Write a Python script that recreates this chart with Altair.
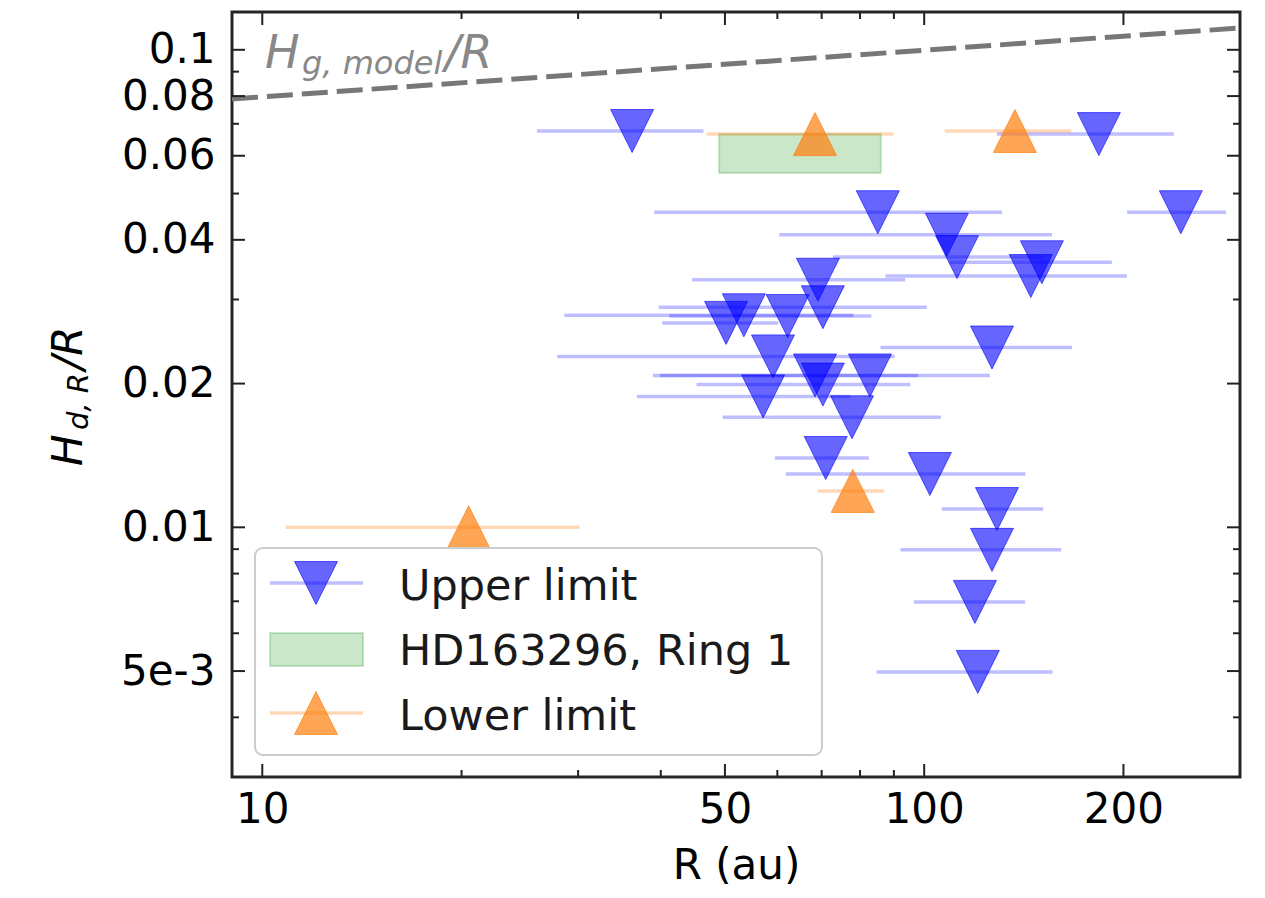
import altair as alt
import pandas as pd

# ---------------- data ----------------
# Upper limits (blue, downward triangles) with symmetric x error bars
up_r = [36.2, 183.6, 244.2, 85.1, 108.2, 112.1, 150.6, 144.9, 69.1, 70.3,
        53.4, 62.2, 50.2, 126.6, 59.1, 68.4, 82.8, 70.3, 57.1, 77.8,
        71.0, 102.0, 128.8, 126.6, 119.3, 120.5]
up_h = [0.0676, 0.0666, 0.0457, 0.0457, 0.0410, 0.0368, 0.0359, 0.0336, 0.0330, 0.0289,
        0.0278, 0.0277, 0.0268, 0.0238, 0.0228, 0.0208, 0.0208, 0.0199, 0.0188, 0.0170,
        0.01397, 0.01293, 0.01092, 0.00897, 0.00698, 0.00498]
up_err = [10.2, 54.8, 41.6, 46.0, 47.8, 39.3, 41.5, 57.5, 24.5, 30.6,
          24.8, 21.0, 10.0, 40.7, 31.2, 29.5, 42.9, 25.0, 20.3, 28.2,
          11.5, 40.2, 22.5, 34.5, 22.8, 35.8]

# Lower limits (orange, upward triangles)
lo_r = [20.5, 68.4, 137.1, 78.0]
lo_h = [0.0100, 0.0666, 0.0676, 0.01192]
lo_err = [9.65, 21.5, 29.7, 9.0]

# HD163296, Ring 1 box
ring_r = [49.0, 86.0]
ring_h = [0.0552, 0.0666]

# Gas scale-height model line
model_r = [9.0, 300.0]
model_h = [0.0789, 0.1111]

# Axis ticks
x_major = [10, 50, 100, 200]
x_minor = [20, 30, 40, 60, 70, 80, 90]
y_major = [0.005, 0.01, 0.02, 0.04, 0.06, 0.08, 0.1]
y_minor = [0.003, 0.004, 0.006, 0.007, 0.008, 0.009, 0.03, 0.05, 0.07, 0.09]

legend_labels = ["Upper limit", "HD163296, Ring 1", "Lower limit"]

# ---------------- tables ----------------
up = pd.DataFrame({"x": up_r, "y": up_h, "err": up_err})
up["x_lo"] = up["x"] - up["err"]
up["x_hi"] = up["x"] + up["err"]
lo = pd.DataFrame({"x": lo_r, "y": lo_h, "err": lo_err})
lo["x_lo"] = lo["x"] - lo["err"]
lo["x_hi"] = lo["x"] + lo["err"]
ring = pd.DataFrame({"x": [ring_r[0]], "x_hi": [ring_r[1]], "y": [ring_h[0]], "y_hi": [ring_h[1]]})
model = pd.DataFrame({"x": model_r, "y": model_h})
xmaj = pd.DataFrame({"x": x_major})
xmin = pd.DataFrame({"x": x_minor})
ymaj = pd.DataFrame({"y": y_major})
ymin = pd.DataFrame({"y": y_minor})
one = pd.DataFrame({"k": [0]})

W, H = 1008, 765
FONT = "DejaVu Sans"
BLUE, ORANGE, GREEN = "#0000ff", "#ff7f0e", "#2ca02c"
TRI_DOWN = "M-1,-1L1,-1L0,1Z"
TRI_UP = "M0,-1L1,1L-1,1Z"
MSIZE = 43 * 43

XS = alt.Scale(type="log", domain=[9, 300], nice=False)
YS = alt.Scale(type="log", domain=[0.003, 0.12], nice=False)

AX = alt.Axis(values=x_major, format="d", ticks=False, domain=False, grid=False,
              labelFont=FONT, labelFontSize=42, labelColor="black", labelPadding=12,
              labelOverlap=False, title="R (au)", titleFont=FONT, titleFontSize=42,
              titleFontWeight="normal", titleColor="black", titlePadding=15)
AY = alt.Axis(values=y_major, ticks=False, domain=False, grid=False,
              labelExpr="datum.value < 0.006 ? '5e-3' : format(datum.value, '~g')",
              labelFont=FONT, labelFontSize=42, labelColor="black", labelPadding=17,
              labelOverlap=False, title=None)


def X(f="x"):
    return alt.X(f"{f}:Q", scale=XS, axis=AX)


def Y(f="y"):
    return alt.Y(f"{f}:Q", scale=YS, axis=AY)


layers = []

# ring box
layers.append(alt.Chart(ring).mark_rect(fill=GREEN, fillOpacity=0.25, stroke=GREEN,
                                        strokeOpacity=0.25, strokeWidth=2).encode(
    x=X(), x2="x_hi:Q", y=Y(), y2="y_hi:Q"))

# error bars
layers.append(alt.Chart(up).mark_rule(color=BLUE, opacity=0.25, strokeWidth=3.5).encode(
    x=X("x_lo"), x2="x_hi:Q", y=Y()))
layers.append(alt.Chart(lo).mark_rule(color=ORANGE, opacity=0.3, strokeWidth=3.5).encode(
    x=X("x_lo"), x2="x_hi:Q", y=Y()))

# markers
layers.append(alt.Chart(up).mark_point(shape=TRI_DOWN, size=MSIZE, filled=True, fill=BLUE,
                                       fillOpacity=0.6, stroke=BLUE, strokeOpacity=0.6,
                                       strokeWidth=1).encode(x=X(), y=Y()))
layers.append(alt.Chart(lo).mark_point(shape=TRI_UP, size=MSIZE, filled=True, fill=ORANGE,
                                       fillOpacity=0.7, stroke=ORANGE, strokeOpacity=0.7,
                                       strokeWidth=1).encode(x=X(), y=Y()))

# model line
layers.append(alt.Chart(model).mark_line(color="#777777", strokeWidth=5,
                                         strokeDash=[26, 9], clip=True).encode(x=X(), y=Y()))

# annotation H_{g, model}/R
ann = dict(font=FONT, fontStyle="italic", color="#888888", align="left", baseline="alphabetic")
layers.append(alt.Chart(one).mark_text(text="H", fontSize=46, **ann).encode(
    x=alt.value(33), y=alt.value(56)))
layers.append(alt.Chart(one).mark_text(text="g, model", fontSize=32, **ann).encode(
    x=alt.value(70), y=alt.value(62)))
layers.append(alt.Chart(one).mark_text(text="/R", fontSize=46, **ann).encode(
    x=alt.value(213), y=alt.value(56)))

# y-axis title H_{d,R}/R (rotated)
yt = dict(font=FONT, fontStyle="italic", color="black", align="left", baseline="alphabetic", angle=270)
layers.append(alt.Chart(one).mark_text(text="H", fontSize=42, **yt).encode(
    x=alt.value(-150), y=alt.value(454)))
layers.append(alt.Chart(one).mark_text(text="d, R", fontSize=29, **yt).encode(
    x=alt.value(-144), y=alt.value(418)))
layers.append(alt.Chart(one).mark_text(text="/R", fontSize=42, **yt).encode(
    x=alt.value(-150), y=alt.value(358)))

# inward ticks on all four sides
TK = dict(color="#222222", strokeWidth=2)
for df, ln in ((xmaj, 13), (xmin, 7)):
    layers.append(alt.Chart(df).mark_rule(**TK).encode(x=X(), y=alt.value(H), y2=alt.value(H - ln)))
    layers.append(alt.Chart(df).mark_rule(**TK).encode(x=X(), y=alt.value(0), y2=alt.value(ln)))
for df, ln in ((ymaj, 13), (ymin, 7)):
    layers.append(alt.Chart(df).mark_rule(**TK).encode(y=Y(), x=alt.value(0), x2=alt.value(ln)))
    layers.append(alt.Chart(df).mark_rule(**TK).encode(y=Y(), x=alt.value(W), x2=alt.value(W - ln)))

# legend (drawn manually)
layers.append(alt.Chart(one).mark_rect(cornerRadius=8, fill="white", fillOpacity=0.8,
                                       stroke="#cccccc", strokeWidth=2).encode(
    x=alt.value(23), x2=alt.value(590), y=alt.value(536), y2=alt.value(743)))
layers.append(alt.Chart(one).mark_rule(color=BLUE, opacity=0.25, strokeWidth=3.5).encode(
    x=alt.value(38), x2=alt.value(131), y=alt.value(571)))
layers.append(alt.Chart(one).mark_point(shape=TRI_DOWN, size=MSIZE, filled=True, fill=BLUE,
                                        fillOpacity=0.6, stroke=BLUE, strokeOpacity=0.6,
                                        strokeWidth=1).encode(x=alt.value(84), y=alt.value(571)))
layers.append(alt.Chart(one).mark_rect(fill=GREEN, fillOpacity=0.25, stroke=GREEN,
                                       strokeOpacity=0.25, strokeWidth=2).encode(
    x=alt.value(38), x2=alt.value(131), y=alt.value(621), y2=alt.value(654)))
layers.append(alt.Chart(one).mark_rule(color=ORANGE, opacity=0.3, strokeWidth=3.5).encode(
    x=alt.value(38), x2=alt.value(131), y=alt.value(701)))
layers.append(alt.Chart(one).mark_point(shape=TRI_UP, size=MSIZE, filled=True, fill=ORANGE,
                                        fillOpacity=0.7, stroke=ORANGE, strokeOpacity=0.7,
                                        strokeWidth=1).encode(x=alt.value(84), y=alt.value(701)))
for lab, yb in zip(legend_labels, (588, 653, 718)):
    layers.append(alt.Chart(one).mark_text(text=lab, font=FONT, fontSize=43, color="#1a1a1a",
                                           align="left", baseline="alphabetic").encode(
        x=alt.value(167), y=alt.value(yb)))

chart = alt.layer(*layers).properties(
    width=W, height=H,
    autosize=alt.AutoSizeParams(type="none"),
    padding={"left": 224, "top": 4, "right": 17, "bottom": 113},
).configure(font=FONT).configure_view(stroke="#262626", strokeWidth=3)

chart.save("out.html", embed_options={"renderer": "svg", "actions": False})
